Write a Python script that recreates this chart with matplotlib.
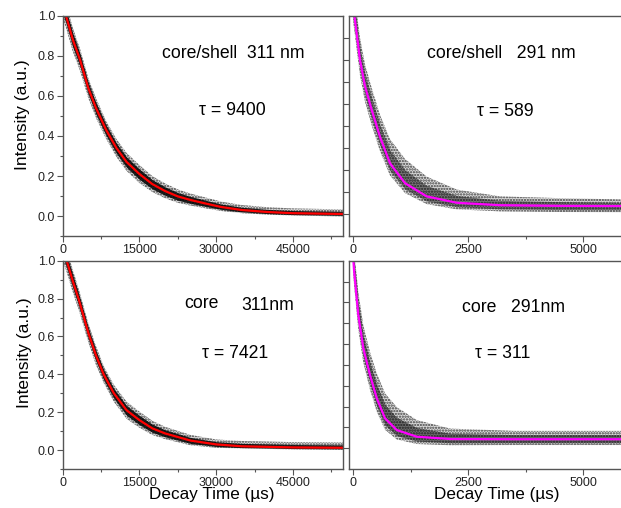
import numpy as np
import matplotlib.pyplot as plt
from matplotlib.ticker import MultipleLocator, NullFormatter

plt.rcParams['font.family'] = ['Liberation Sans', 'DejaVu Sans']
plt.rcParams['hatch.linewidth'] = 1.1

# values: time (us), fitted intensity, noise spread above/below fit
# core/shell 311 nm
t_cs311 = [0, 650, 2000, 3400, 5000, 6500, 8500, 10500, 12500, 15000, 17500, 20000,
           22500, 25000, 28000, 31000, 35000, 40000, 45000, 55000]
fit_cs311 = [1.05, 1.0, 0.88, 0.78, 0.64, 0.54, 0.43, 0.34, 0.27, 0.21, 0.16, 0.125,
             0.098, 0.08, 0.062, 0.045, 0.03, 0.02, 0.014, 0.01]
up_cs311 = [0.06, 0.06, 0.06, 0.055, 0.05, 0.05, 0.045, 0.045, 0.045, 0.045, 0.04, 0.038,
            0.035, 0.032, 0.03, 0.027, 0.025, 0.024, 0.024, 0.023]
lo_cs311 = [0.06, 0.06, 0.06, 0.055, 0.05, 0.05, 0.045, 0.045, 0.045, 0.045, 0.04, 0.036,
            0.032, 0.028, 0.024, 0.02, 0.016, 0.013, 0.012, 0.012]

# core 311 nm
t_c311 = [0, 780, 2000, 3200, 5000, 6500, 8000, 10000, 12500, 15000, 17500, 20000,
          25000, 30000, 35000, 45000, 55000]
fit_c311 = [1.06, 1.0, 0.89, 0.79, 0.62, 0.50, 0.40, 0.30, 0.21, 0.158, 0.115, 0.088,
            0.05, 0.03, 0.02, 0.014, 0.012]
up_c311 = [0.06, 0.06, 0.06, 0.055, 0.05, 0.05, 0.045, 0.045, 0.045, 0.045, 0.04, 0.035,
           0.03, 0.026, 0.028, 0.028, 0.028]
lo_c311 = [0.06, 0.06, 0.06, 0.055, 0.05, 0.05, 0.045, 0.045, 0.045, 0.04, 0.035, 0.03,
           0.025, 0.018, 0.012, 0.01, 0.01]

# core/shell 291 nm
t_cs291 = [0, 43, 152, 261, 406, 587, 804, 1130, 1600, 2254, 3196, 4500, 5900]
fit_cs291 = [1.05, 0.98, 0.80, 0.68, 0.573, 0.45, 0.33, 0.24, 0.18, 0.151, 0.14, 0.137, 0.136]
up_cs291 = [0.1, 0.1, 0.1, 0.1, 0.1, 0.1, 0.11, 0.11, 0.09, 0.06, 0.04, 0.035, 0.03]
lo_cs291 = [0.07, 0.07, 0.07, 0.07, 0.07, 0.065, 0.055, 0.045, 0.035, 0.03, 0.028, 0.028, 0.028]

# core 291 nm
t_c291 = [0, 22, 115, 224, 370, 515, 696, 950, 1385, 2109, 3500, 5900]
fit_c291 = [1.03, 0.955, 0.74, 0.58, 0.45, 0.34, 0.243, 0.187, 0.155, 0.144, 0.143, 0.143]
up_c291 = [0.1, 0.1, 0.11, 0.11, 0.11, 0.12, 0.12, 0.11, 0.08, 0.05, 0.04, 0.04]
lo_c291 = [0.07, 0.07, 0.07, 0.07, 0.07, 0.065, 0.055, 0.045, 0.035, 0.03, 0.028, 0.028]

W, H = 621, 508
fig = plt.figure(figsize=(W / 100, H / 100), dpi=100)


def px_axes(x0, y0, x1, y1):
    return fig.add_axes([x0 / W, 1 - y1 / H, (x1 - x0) / W, (y1 - y0) / H])


def style(ax):
    for s in ax.spines.values():
        s.set_color('#555555')
        s.set_linewidth(1.0)
    ax.tick_params(which='both', direction='out', colors='#555555', labelcolor='#222222',
                   labelsize=9, width=0.8, pad=1.5)
    ax.tick_params(which='major', length=4)
    ax.tick_params(which='minor', length=2.5)


def draw(ax, t, fit, up, lo, color, core_alpha):
    t = np.array(t)
    fit = np.array(fit)
    up = np.array(up)
    lo = np.array(lo)
    ax.fill_between(t, fit - lo, fit + up, facecolor=(0, 0, 0, 0.15), edgecolor='0.25',
                    hatch='......', linewidth=0)
    ax.fill_between(t, fit - lo * 0.6, fit + up * 0.55, color='black', alpha=core_alpha,
                    linewidth=0)
    ax.plot(t, fit, color=color, lw=1.6)


ax1 = px_axes(62.7, 16, 343, 236)
ax2 = px_axes(349, 16, 622.5, 236)
ax3 = px_axes(62.7, 260.7, 343, 469)
ax4 = px_axes(349, 260.7, 622.5, 469)

draw(ax1, t_cs311, fit_cs311, up_cs311, lo_cs311, 'red', 0.85)
draw(ax3, t_c311, fit_c311, up_c311, lo_c311, 'red', 0.85)
draw(ax2, t_cs291, fit_cs291, up_cs291, lo_cs291, '#ff00ff', 0.45)
draw(ax4, t_c291, fit_c291, up_c291, lo_c291, '#ff00ff', 0.5)

for ax in (ax1, ax3):
    style(ax)
    ax.set_xlim(0, 54800)
    ax.set_ylim(-0.1, 1.0)
    ax.xaxis.set_major_locator(MultipleLocator(15000))
    ax.xaxis.set_minor_locator(MultipleLocator(7500))
    ax.yaxis.set_major_locator(MultipleLocator(0.2))
    ax.yaxis.set_minor_locator(MultipleLocator(0.1))
    ax.yaxis.set_major_formatter(lambda v, p: f'{v:.1f}')

for ax in (ax2, ax4):
    style(ax)
    ax.set_xlim(-87, 5852)
    ax.set_ylim(0, 1.0)
    ax.spines['right'].set_visible(False)
    ax.xaxis.set_major_locator(MultipleLocator(2500))
    ax.xaxis.set_minor_locator(MultipleLocator(1250))
    ax.set_yticks(np.arange(0.1, 0.95, 0.1))
    ax.yaxis.set_major_formatter(NullFormatter())


def ftext(x, y, s, size=12.7, **kw):
    fig.text(x / W, 1 - y / H, s, ha='center', va='center', fontsize=size, color='black', **kw)


# axis titles
ftext(23, 115, 'Intensity (a.u.)', size=12.5, rotation=90)
ftext(25, 353, 'Intensity (a.u.)', size=12.5, rotation=90)
ftext(212, 495, 'Decay Time (\u00b5s)', size=12.3)
ftext(497, 495, 'Decay Time (\u00b5s)', size=12.3)

# annotations
ftext(233, 53, 'core/shell  311 nm')
ftext(232, 110, '\u03c4 = 9400')
ftext(501, 53, 'core/shell   291 nm')
ftext(505, 112, '\u03c4 = 589')
ftext(201, 304, 'core')
ftext(268, 306, '311nm')
ftext(235, 353, '\u03c4 = 7421')
ftext(514, 307, 'core   291nm')
ftext(503, 353, '\u03c4 = 311')

fig.savefig('out.png', dpi=100)
